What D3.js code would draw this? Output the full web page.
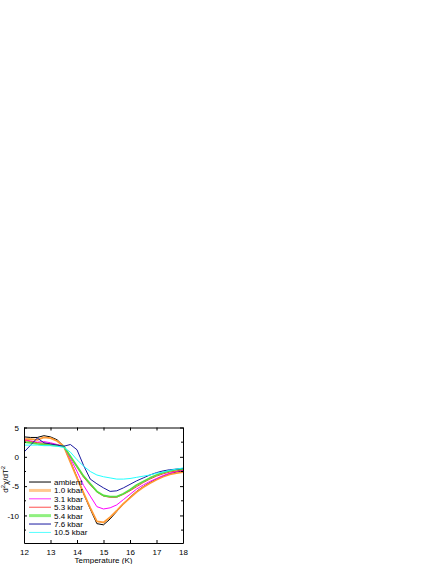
<!DOCTYPE html>
<html>
<head>
<meta charset="utf-8">
<script src="https://cdn.jsdelivr.net/npm/d3@7"></script>
<style>
  html, body { margin: 0; padding: 0; background: #fff; }
  svg { display: block; }
  text { font-family: "Liberation Sans", Arial, sans-serif; }
</style>
</head>
<body>
<svg id="chart" width="436" height="564"></svg>
<script>
// temperature grid (K)
const temps = [12, 12.25, 12.5, 12.75, 13, 13.25, 13.5, 13.75, 14, 14.25, 14.5, 14.75, 15, 15.25, 15.5, 15.75, 16, 16.25, 16.5, 16.75, 17, 17.25, 17.5, 17.75, 18];

// series names
const seriesNames = ['ambient', '1.0 kbar', '3.1 kbar', '5.3 kbar', '5.4 kbar', '7.6 kbar', '10.5 kbar'];

// d2chi/dT2 values, one array per pressure
const ambient = [3.4, 3.3, 3.3, 3.6, 3.4, 2.9, 1.8, -0.8, -3.5, -6.3, -8.9, -11.4, -11.6, -10.6, -9.3, -8.0, -6.9, -5.9, -5.1, -4.4, -3.8, -3.3, -2.9, -2.6, -2.4];
const kbar10 = [3.0, 3.0, 2.9, 3.3, 3.2, 2.7, 1.8, -0.9, -3.6, -6.2, -8.7, -11.0, -11.2, -10.3, -9.2, -8.0, -7.0, -6.0, -5.2, -4.5, -3.9, -3.4, -3.0, -2.8, -2.6];
const kbar31 = [2.9, 2.7, 2.5, 2.6, 2.4, 2.1, 1.8, -0.3, -2.5, -4.9, -6.7, -8.5, -8.9, -8.7, -8.2, -7.3, -6.4, -5.5, -4.8, -4.2, -3.7, -3.2, -2.8, -2.5, -2.3];
const kbar53 = [2.8, 2.6, 2.4, 2.3, 2.2, 2.0, 1.8, 0.0, -1.8, -3.5, -4.8, -6.0, -6.7, -6.9, -6.9, -6.4, -5.8, -5.1, -4.4, -3.8, -3.3, -2.9, -2.6, -2.4, -2.2];
const kbar54 = [2.5, 2.4, 2.2, 2.1, 2.0, 1.9, 1.8, 0.1, -1.6, -3.3, -4.6, -5.9, -6.6, -6.8, -6.8, -6.3, -5.6, -4.8, -4.2, -3.6, -3.1, -2.7, -2.4, -2.2, -2.1];
const kbar76 = [0.8, 2.0, 3.2, 2.4, 2.2, 2.0, 1.8, 2.1, 1.2, -1.5, -3.8, -4.6, -5.3, -5.9, -5.8, -5.3, -4.7, -4.1, -3.6, -3.1, -2.7, -2.4, -2.2, -2.1, -2.0];
const kbar105 = [2.0, 2.0, 2.0, 1.9, 1.9, 1.8, 1.6, 0.8, -0.5, -1.6, -2.5, -3.1, -3.4, -3.6, -3.8, -3.8, -3.7, -3.5, -3.3, -3.1, -2.8, -2.6, -2.3, -2.1, -1.9];

const xTicks = [12, 13, 14, 15, 16, 17, 18];
const yTicks = [5, 0, -5, -10];

const seriesValues = [ambient, kbar10, kbar31, kbar53, kbar54, kbar76, kbar105];
const colors = ['#000000', '#ff9933', '#ff00ff', '#ff3333', '#55e040', '#1a1aa0', '#22ffff'];
const widths = [1, 1.8, 1, 1, 1.8, 1, 1];
const legendColors = ['#000000', '#ffc890', '#ff33ff', '#ff5050', '#90f080', '#1a1aa0', '#55ffff'];
const legendWidths = [1, 3, 1, 1, 3, 1, 1];

const svg = d3.select('#chart');
const margin = { left: 24, right: 253, top: 427.5, bottom: 21 };
const W = 436 - margin.left - margin.right;
const H = 564 - margin.top - margin.bottom;

const g = svg.append('g').attr('transform', `translate(${margin.left},${margin.top})`);

const x = d3.scaleLinear().domain([12, 18]).range([0, W]);
const y = d3.scaleLinear().domain([-14.7, 5]).range([H, 0]);

// clip curves to the frame
svg.append('defs').append('clipPath').attr('id', 'clip')
  .append('rect').attr('width', W).attr('height', H);

const line = d3.line().x(d => x(d[0])).y(d => y(d[1]));

const curves = g.append('g').attr('clip-path', 'url(#clip)');
seriesValues.forEach((vals, i) => {
  curves.append('path')
    .datum(temps.map((t, k) => [t, vals[k]]))
    .attr('fill', 'none')
    .attr('stroke', colors[i])
    .attr('stroke-width', widths[i])
    .attr('stroke-linejoin', 'round')
    .attr('d', line);
});

// axes with inward ticks on all four sides
function styleAxis(sel) {
  sel.selectAll('path.domain').attr('stroke', '#000').attr('stroke-width', 1);
  sel.selectAll('line').attr('stroke', '#000');
  sel.selectAll('text').attr('fill', '#000').style('font-size', '8px').style('font-family', '"Liberation Sans", Arial, sans-serif');
}

const xb = g.append('g').attr('transform', `translate(0,${H})`)
  .call(d3.axisBottom(x).tickValues(xTicks).tickFormat(d3.format('d')).tickSizeInner(-3).tickSizeOuter(0).tickPadding(6));
styleAxis(xb);
const xt = g.append('g')
  .call(d3.axisTop(x).tickValues(xTicks).tickFormat('').tickSizeInner(-3).tickSizeOuter(0));
styleAxis(xt);

const yMinor = [2.5, -2.5, -7.5, -12.5];
const yl = g.append('g')
  .call(d3.axisLeft(y).tickValues(yTicks).tickFormat(d3.format('d')).tickSizeInner(-3).tickSizeOuter(0).tickPadding(5));
styleAxis(yl);
yl.selectAll('text').text(d => d < 0 ? '-' + Math.abs(d) : d);
const yr = g.append('g').attr('transform', `translate(${W},0)`)
  .call(d3.axisRight(y).tickValues(yTicks).tickFormat('').tickSizeInner(-3).tickSizeOuter(0));
styleAxis(yr);
[0, W].forEach(px => {
  g.append('g').selectAll('line').data(yMinor).join('line')
    .attr('x1', px).attr('x2', px === 0 ? 2 : W - 2)
    .attr('y1', d => y(d)).attr('y2', d => y(d))
    .attr('stroke', '#000');
});

// axis titles
g.append('text')
  .attr('x', W / 2).attr('y', H + 20)
  .attr('text-anchor', 'middle')
  .style('font-size', '8px')
  .text('Temperature (K)');

const yTitle = g.append('text')
  .attr('transform', `translate(-16,${H / 2 - 6}) rotate(-90)`)
  .attr('text-anchor', 'middle')
  .style('font-size', '8px');
yTitle.append('tspan').text('d');
yTitle.append('tspan').attr('dy', -3).style('font-size', '6px').text('2');
yTitle.append('tspan').attr('dy', 3).text('χ/dT');
yTitle.append('tspan').attr('dy', -3).style('font-size', '6px').text('2');

// legend
const legend = g.append('g').attr('transform', `translate(5,${y(-4.3)})`);
seriesNames.forEach((name, i) => {
  const row = legend.append('g').attr('transform', `translate(0,${i * 8.4})`);
  row.append('line').attr('x1', 0).attr('x2', 22).attr('y1', 0).attr('y2', 0)
    .attr('stroke', legendColors[i]).attr('stroke-width', legendWidths[i]);
  row.append('text').attr('x', 25).attr('y', 3).style('font-size', '8px').text(name);
});
</script>
</body>
</html>
